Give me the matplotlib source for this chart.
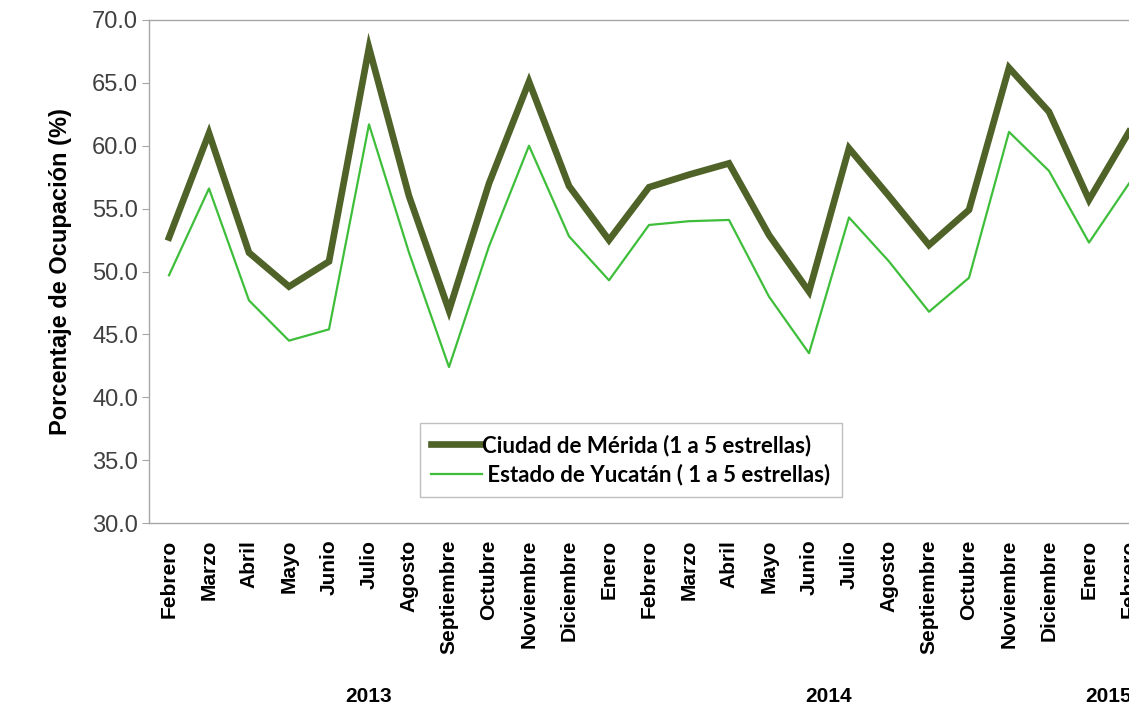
"""Hotel occupancy: Ciudad de Mérida vs Estado de Yucatán, Feb 2013 - Feb 2015."""

import matplotlib

matplotlib.use("Agg")
import matplotlib.pyplot as plt
import matplotlib.transforms as mtransforms

months = [
    "Febrero", "Marzo", "Abril", "Mayo", "Junio", "Julio", "Agosto",
    "Septiembre", "Octubre", "Noviembre", "Diciembre",
    "Enero", "Febrero", "Marzo", "Abril", "Mayo", "Junio", "Julio", "Agosto",
    "Septiembre", "Octubre", "Noviembre", "Diciembre",
    "Enero", "Febrero",
]
years = ["2013", "2014", "2015"]
year_spans = [(0, 10), (11, 22), (23, 24)]

merida = [
    52.7, 61.0, 51.5, 48.8, 50.8, 67.8, 56.0, 46.9, 57.0, 65.1, 56.8,
    52.5, 56.7, 57.7, 58.6, 52.9, 48.4, 59.8, 56.0, 52.1, 54.9, 66.2, 62.7,
    55.7, 61.1,
]
yucatan = [
    49.7, 56.6, 47.7, 44.5, 45.4, 61.7, 51.5, 42.4, 52.0, 60.0, 52.8,
    49.3, 53.7, 54.0, 54.1, 48.0, 43.5, 54.3, 50.8, 46.8, 49.5, 61.1, 58.0,
    52.3, 57.0,
]

W, H = 1129, 710
fig = plt.figure(figsize=(W / 100, H / 100), dpi=100)
# plot area runs past the right edge of the picture, as in the source
ax = fig.add_axes([149 / W, 187 / H, 1000 / W, 503 / H])

x = list(range(len(months)))
ax.plot(x, merida, color="#4F6228", lw=4.8, solid_joinstyle="miter",
        label="Ciudad de Mérida (1 a 5 estrellas)")
ax.plot(x, yucatan, color="#3EBE3A", lw=1.6,
        label=" Estado de Yucatán ( 1 a 5 estrellas)")

ax.set_xlim(-0.5, len(months) - 0.5)
ax.set_ylim(30, 70)
ax.set_yticks(range(30, 71, 5))
ax.set_yticklabels([f"{v:.1f}" for v in range(30, 71, 5)],
                   fontsize=17, color="#404040", family="Liberation Sans")
ax.set_xticks(x)
ax.set_xticklabels(months, rotation=90, fontsize=15, fontweight="bold",
                   family="Liberation Sans")
ax.tick_params(axis="x", length=0, pad=12)
ax.tick_params(axis="y", length=5, color="#A6A6A6", pad=3)

for side in ["top", "left", "bottom", "right"]:
    ax.spines[side].set_color("#A6A6A6")
    ax.spines[side].set_linewidth(1.0)

ax.set_ylabel("Porcentaje de Ocupación (%)", fontsize=17, fontweight="bold",
              family="Liberation Sans", labelpad=14)

trans = mtransforms.blended_transform_factory(ax.transData, fig.transFigure)
for label, (a, b) in zip(years, year_spans):
    ax.text((a + b) / 2, 13 / H, label, transform=trans, ha="center",
            va="center", fontsize=15, fontweight="bold",
            family="Liberation Sans")

leg = ax.legend(loc="lower left", bbox_to_anchor=(0.26, 0.03),
                prop={"family": "Lato", "weight": "bold", "size": 16},
                handlelength=2.3, handletextpad=0.0, borderpad=0.5,
                labelspacing=0.35, fancybox=False, framealpha=1)
leg.get_frame().set_edgecolor("#BFBFBF")

fig.savefig("out.png", dpi=100)
